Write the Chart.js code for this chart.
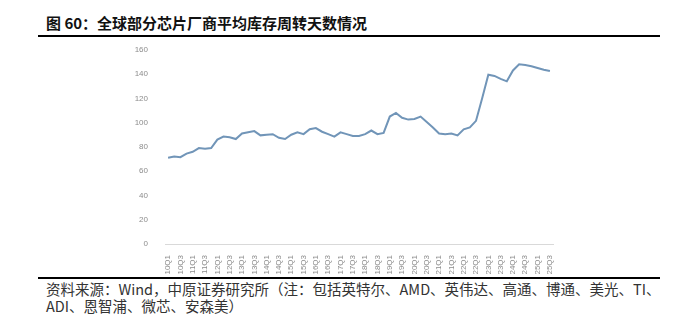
<!DOCTYPE html>
<html>
<head>
<meta charset="utf-8">
<script src="https://cdn.jsdelivr.net/npm/chart.js@4/dist/chart.umd.min.js"></script>
<style>
  body { margin: 0; background: #fff; width: 695px; height: 322px; position: relative; overflow: hidden; }
  .titulo { position: absolute; left: 46px; top: 15px; font: bold 15px "Noto Sans CJK SC", sans-serif; color: #111; line-height: 15px; white-space: nowrap; }
  .linha { position: absolute; left: 38px; width: 622px; height: 2px; background: #000; }
  .fonte { position: absolute; left: 46px; top: 280px; font: 14.5px "Noto Sans CJK SC", sans-serif; color: #333; line-height: 17px; width: 645px; white-space: nowrap; }
  #grafico { position: absolute; left: 100px; top: 36px; }
</style>
</head>
<body>
<div class="titulo">图 60：全球部分芯片厂商平均库存周转天数情况</div>
<div class="linha" style="top:35px"></div>
<canvas id="grafico" width="470" height="240"></canvas>
<div class="linha" style="top:277px"></div>
<div class="fonte">资料来源：Wind，中原证券研究所（注：包括英特尔、AMD、英伟达、高通、博通、美光、TI、<br>ADI、恩智浦、微芯、安森美）</div>
<script>
const trimestres = [];
for (let a = 10; a <= 25; a++) {
    for (let q = 1; q <= 4; q++) {
        if (a === 25 && q > 3) break;
        trimestres.push(a + 'Q' + q);
    }
}

const diasEstoque = [
    71, 72, 71.5, 74.5, 76, 79, 78.5, 79, 86, 88.5,
    88, 86.5, 91, 92, 93, 89.5, 90, 90.5, 87.5, 86.5,
    90, 92, 90.5, 94.5, 95.5, 92.5, 90.5, 88.5, 92, 90.5,
    89, 89, 90.5, 93.5, 90.5, 91.5, 105, 108, 104, 102.5,
    103, 105, 100.5, 96, 91, 90.5, 91, 89.5, 94.5, 96,
    101.5, 120, 139.5, 138.5, 136, 134, 143, 148, 147.5, 146.5,
    145, 143.5, 142.5
];

const yTicks = [0, 20, 40, 60, 80, 100, 120, 140, 160];

const ctx = document.getElementById('grafico');
new Chart(ctx, {
    type: 'line',
    data: {
        labels: trimestres,
        datasets: [{
            data: diasEstoque,
            borderColor: '#7195b8',
            borderWidth: 2,
            pointRadius: 0,
            tension: 0,
            fill: false
        }]
    },
    options: {
        responsive: false,
        animation: false,
        layout: { padding: { top: 8, right: 17, bottom: 0, left: 0 } },
        plugins: { legend: { display: false }, tooltip: { enabled: false } },
        scales: {
            x: {
                offset: true,
                grid: { display: false },
                border: { display: true, color: '#d9d9d9', width: 1 },
                ticks: {
                    autoSkip: false,
                    maxRotation: 90,
                    minRotation: 90,
                    padding: 3,
                    color: '#8c8c8c',
                    font: { family: 'Liberation Sans', size: 8 },
                    callback: function (v, i) { return i % 2 === 0 ? trimestres[i] : ''; }
                },
                afterFit: function (s) { s.height = 32; }
            },
            y: {
                min: 0,
                max: 160,
                grid: { display: false },
                border: { display: false },
                afterBuildTicks: function (s) { s.ticks = yTicks.map(v => ({ value: v })); },
                ticks: {
                    padding: 9,
                    color: '#8c8c8c',
                    font: { family: 'Liberation Sans', size: 8 }
                },
                afterFit: function (s) { s.width = 65; }
            }
        }
    }
});
</script>
</body>
</html>
